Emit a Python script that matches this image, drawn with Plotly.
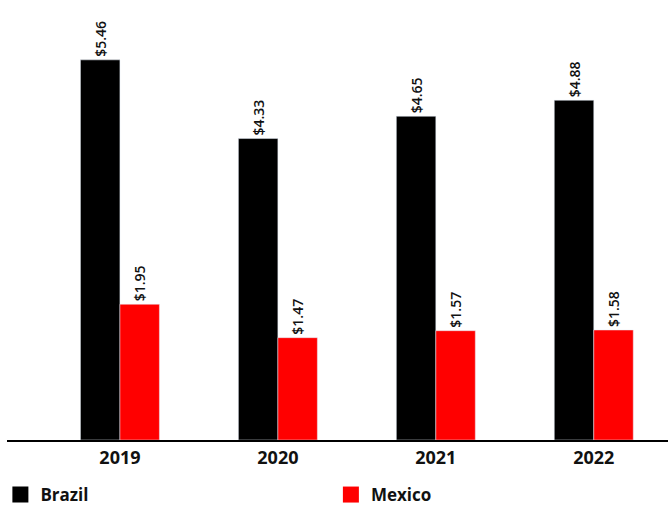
import plotly.graph_objects as go

years = ["2019", "2020", "2021", "2022"]
brazil = [5.46, 4.33, 4.65, 4.88]
mexico = [1.95, 1.47, 1.57, 1.58]
series = [("Brazil", brazil, "#000000"), ("Mexico", mexico, "#ff0000")]

font_family = "Open Sans"
label_font = dict(family=font_family, size=14, color="#111111", weight=600)

fig = go.Figure()
for name, vals, color in series:
    fig.add_trace(go.Bar(
        name=name, x=years, y=vals, marker_color=color,
        text=[f"${v:.2f}" for v in vals], textposition="outside", textangle=-90,
        textfont=label_font, cliponaxis=False, showlegend=False,
    ))

# square legend keys, one legend per series so they can sit apart
for (name, vals, color), leg in zip(series, ["legend", "legend2"]):
    fig.add_trace(go.Scatter(
        name=name, x=[None], y=[None], mode="markers",
        marker=dict(symbol="square", size=17, color=color),
        legend=leg, showlegend=True,
    ))

legend_common = dict(
    orientation="h", yanchor="middle", y=-0.125,
    font=dict(family=font_family, size=17, weight="bold"),
    itemwidth=30, bgcolor="rgba(0,0,0,0)",
)

fig.update_layout(
    width=668, height=506,
    margin=dict(l=7, r=0, t=0, b=66, autoexpand=False),
    barmode="group", bargap=0.5, bargroupgap=0,
    plot_bgcolor="white", paper_bgcolor="white",
    font=dict(family=font_family, color="#111111"),
    showlegend=True,
    legend=dict(x=-0.01, xanchor="left", **legend_common),
    legend2=dict(x=0.49, xanchor="left", **legend_common),
)
fig.update_xaxes(
    type="category", range=[-0.715, 3.47],
    showline=True, linecolor="#000000", linewidth=2,
    showgrid=False, ticks="",
    tickfont=dict(family=font_family, size=18, weight="bold", color="#111111"),
)
fig.update_yaxes(
    range=[0, 6.32], visible=False, showgrid=False, zeroline=False,
)

fig.write_html("out.html")
